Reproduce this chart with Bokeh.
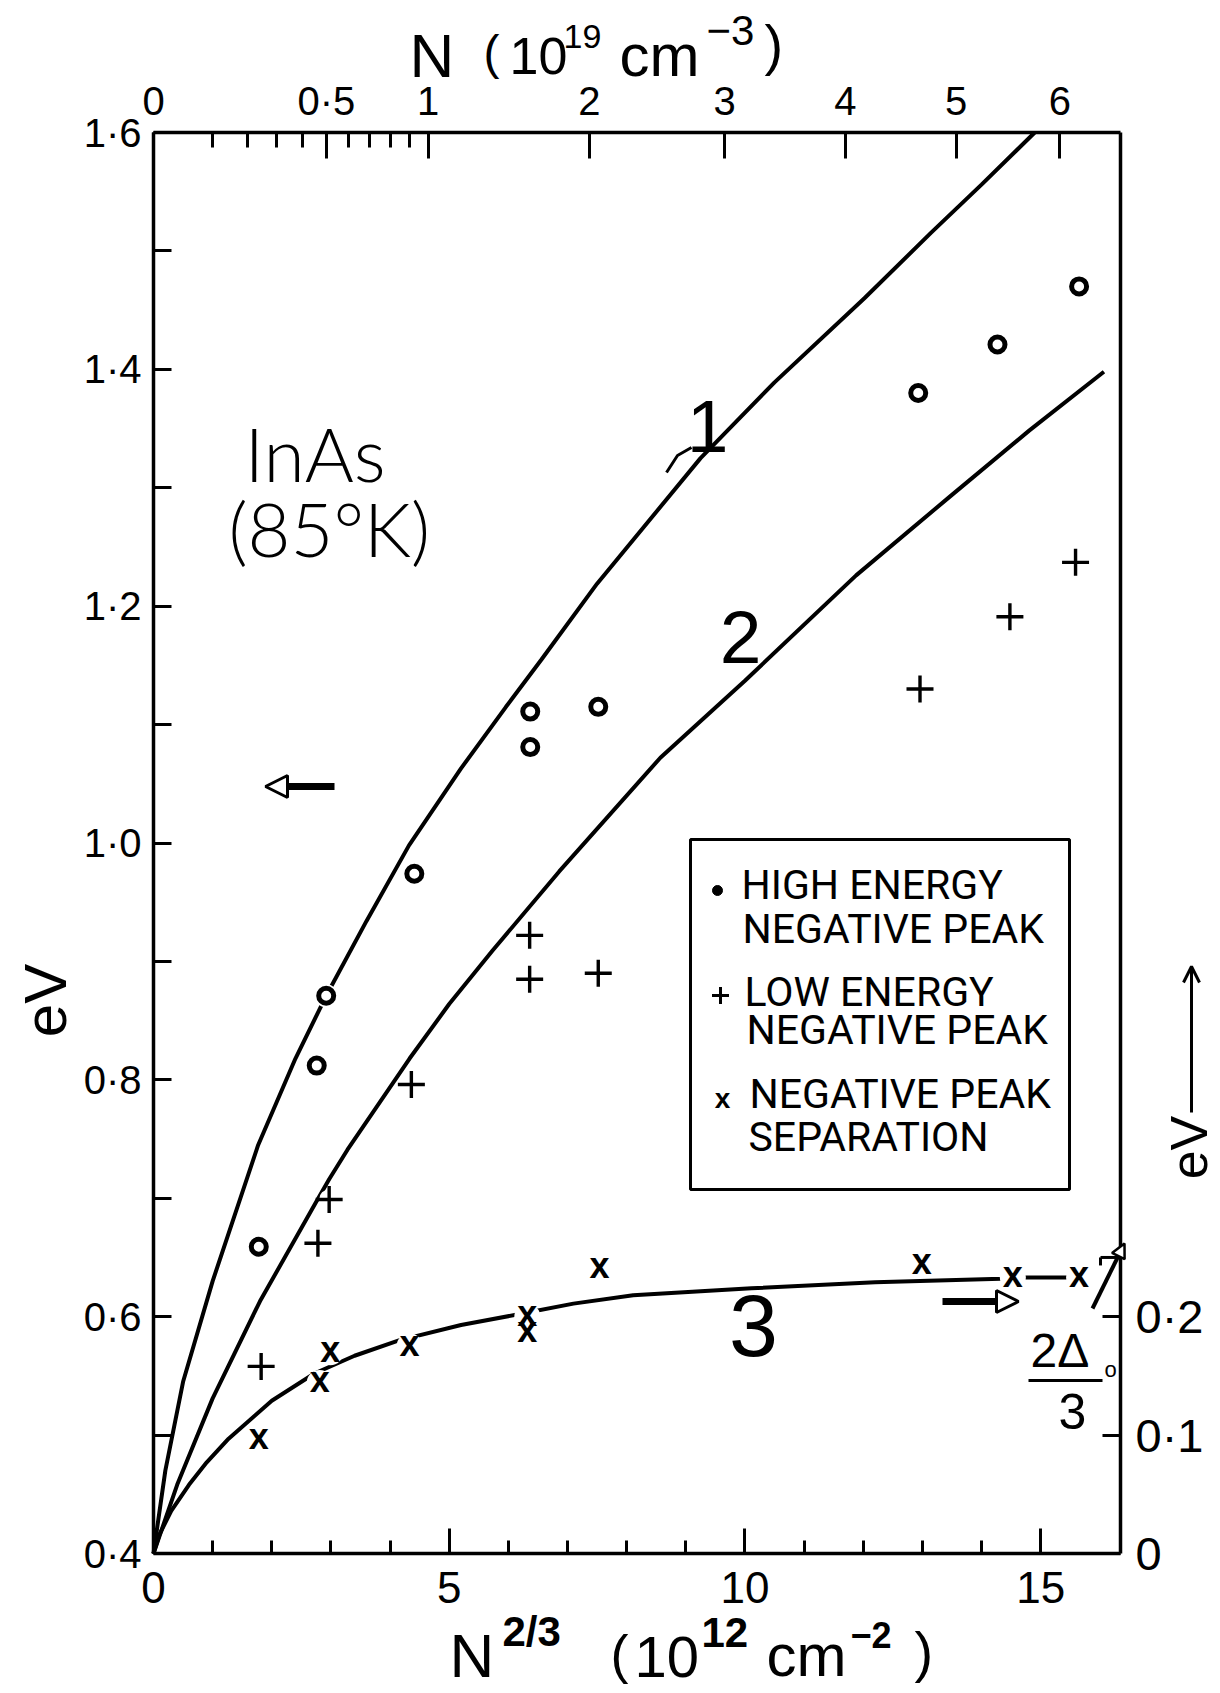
from bokeh.plotting import figure
from bokeh.models import (Range1d, LinearAxis, FixedTicker, Label, Arrow,
                          NormalHead, OpenHead)
from bokeh.core.properties import value
from bokeh.embed import file_html
from bokeh.resources import INLINE

# ---------------------------------------------------------------------------
# InAs (85 K): tunnelling negative-resistance peaks versus N^(2/3)
# x: N^(2/3) in units of 1e12 cm^-2 ; y: eV
# ---------------------------------------------------------------------------
high_x = [1.78, 2.76, 2.92, 4.41, 6.37, 6.37, 7.52, 12.93, 14.27, 15.65]
high_y = [0.659, 0.812, 0.871, 0.974, 1.111, 1.081, 1.115, 1.380, 1.421, 1.470]

low_x = [1.82, 2.78, 2.97, 4.36, 6.36, 6.36, 7.52, 12.96, 14.48, 15.59]
low_y = [0.558, 0.662, 0.699, 0.796, 0.922, 0.885, 0.890, 1.130, 1.191, 1.237]

# peak separation, read on the right-hand scale
sep_x = [1.78, 2.81, 2.99, 4.33, 6.32, 6.32, 7.54, 12.99, 14.53, 15.65]
sep_y = [0.096, 0.144, 0.170, 0.175, 0.200, 0.187, 0.241, 0.244, 0.233, 0.233]

curve1_x = [0.0, 0.2, 0.5, 1.0, 1.77, 2.4, 2.92, 3.6, 4.32, 5.2, 5.96, 6.56,
            7.5, 9.25, 10.5, 12.02, 13.14, 14.0, 14.9]
curve1_y = [0.400, 0.470, 0.545, 0.630, 0.745, 0.818, 0.871, 0.934, 0.998,
            1.063, 1.115, 1.155, 1.219, 1.325, 1.389, 1.460, 1.515, 1.556,
            1.600]

curve2_x = [0.0, 0.4, 1.0, 1.8, 2.74, 2.97, 3.28, 4.33, 5.0, 5.73, 6.86, 8.57,
            10.0, 11.88, 13.5, 14.8, 16.07]
curve2_y = [0.400, 0.458, 0.531, 0.613, 0.696, 0.716, 0.741, 0.818, 0.864,
            0.909, 0.976, 1.072, 1.137, 1.226, 1.294, 1.348, 1.398]

curve3_x = [0.0, 0.1, 0.3, 0.6, 0.9, 1.27, 2.0, 2.72, 3.4, 4.15, 5.2, 6.17,
            7.1, 8.11, 10.11, 12.2, 14.33, 14.53, 15.65]
curve3_y = [0.000, 0.016, 0.036, 0.058, 0.077, 0.097, 0.129, 0.152, 0.167,
            0.180, 0.193, 0.202, 0.211, 0.218, 0.224, 0.229, 0.232, 0.233,
            0.233]

two_delta0_over_3 = 0.25

left_ticks = [0.4, 0.6, 0.8, 1.0, 1.2, 1.4, 1.6]
left_labels = ["0·4", "0·6", "0·8", "1·0", "1·2", "1·4", "1·6"]
left_minor = [0.5, 0.7, 0.9, 1.1, 1.3, 1.5]

right_ticks = [0.0, 0.1, 0.2]
right_labels = ["0", "0·1", "0·2"]

bottom_ticks = [0, 5, 10, 15]
bottom_minor = [1, 2, 3, 4, 6, 7, 8, 9, 11, 12, 13, 14]

top_N = [0, 0.5, 1, 2, 3, 4, 5, 6]          # N in 1e19 cm^-3
top_labels = ["0", "0·5", "1", "2", "3", "4", "5", "6"]
top_N_minor = [0.1, 0.2, 0.3, 0.4, 0.6, 0.7, 0.8, 0.9]

# N (1e19 cm^-3) -> N^(2/3) (1e12 cm^-2)
N_TO_X = (1e19) ** (2.0 / 3.0) / 1e12
top_pos = [N_TO_X * n ** (2.0 / 3.0) for n in top_N]
top_minor_pos = [N_TO_X * n ** (2.0 / 3.0) for n in top_N_minor]

# ---------------------------------------------------------------------------
W, H = 1220, 1693
L, R, T, B = 153, 1120, 132, 1553          # axes box on the page
X0, X1 = 0.0, 16.35
Y0, Y1 = 0.4, 1.6
INK = "black"
FONT = "Liberation Sans"

# the drawing area covers the whole page; the axes box sits inside it
KX = (X1 - X0) / (R - L)
KY = (Y1 - Y0) / (B - T)
XR = Range1d(X0 - L * KX, X1 + (W - R) * KX)
YR = Range1d(Y0 - (H - B) * KY, Y1 + T * KY)


def px_x(X):
    return X0 + (X - L) * KX


def px_y(Y):
    return Y1 - (Y - T) * KY


p = figure(width=W, height=H, x_range=XR, y_range=YR,
           x_axis_location=None, y_axis_location=None,
           output_backend="svg", toolbar_location=None,
           min_border_left=0, min_border_right=0,
           min_border_top=0, min_border_bottom=0)
p.extra_y_ranges = {"sep": Range1d(YR.start - Y0, YR.end - Y0)}
p.grid.visible = False
p.outline_line_color = None
p.background_fill_color = "white"
p.border_fill_color = "white"


def ink_axis(ax, font_px, tick_in, minor_in, standoff):
    ax.axis_line_width = 3.5
    ax.axis_line_color = INK
    ax.major_tick_in = tick_in
    ax.major_tick_out = 0
    ax.minor_tick_in = minor_in
    ax.minor_tick_out = 0
    ax.major_tick_line_width = 3
    ax.minor_tick_line_width = 3
    ax.major_tick_line_color = INK
    ax.minor_tick_line_color = INK
    ax.major_label_text_font = FONT
    ax.major_label_text_font_size = f"{font_px}px"
    ax.major_label_text_color = INK
    ax.major_label_standoff = standoff


left_axis = LinearAxis(ticker=FixedTicker(ticks=left_ticks, minor_ticks=left_minor),
                       fixed_location=X0, bounds=(Y0, Y1))
left_axis.major_label_overrides = dict(zip(left_ticks, left_labels))
ink_axis(left_axis, 40, 18, 18, 12)
p.add_layout(left_axis, "left")

right_axis = LinearAxis(y_range_name="sep",
                        ticker=FixedTicker(ticks=right_ticks, minor_ticks=[]),
                        fixed_location=X1, bounds=(0.0, Y1 - Y0))
right_axis.major_label_overrides = dict(zip(right_ticks, right_labels))
ink_axis(right_axis, 47, 18, 0, 15)
p.add_layout(right_axis, "right")

bottom_axis = LinearAxis(ticker=FixedTicker(ticks=bottom_ticks, minor_ticks=bottom_minor),
                         fixed_location=Y0, bounds=(X0, X1))
ink_axis(bottom_axis, 44, 25, 13, 18)
p.add_layout(bottom_axis, "below")

top_axis = LinearAxis(ticker=FixedTicker(ticks=top_pos, minor_ticks=top_minor_pos),
                      fixed_location=Y1, bounds=(X0, X1))
top_axis.major_label_overrides = dict(zip(top_pos, top_labels))
ink_axis(top_axis, 40, 26, 15, 10)
p.add_layout(top_axis, "above")

# --- theoretical curves ----------------------------------------------------
p.line(curve1_x, curve1_y, line_width=4, line_color=INK)
p.line(curve2_x, curve2_y, line_width=4, line_color=INK)
p.line(curve3_x, curve3_y, line_width=4, line_color=INK, y_range_name="sep")

# white halos break the curves under each plotted point
p.scatter(high_x, high_y, marker="circle", size=23, fill_color="white", line_color=None)
p.scatter(low_x, low_y, marker="circle", size=20, fill_color="white", line_color=None)
p.scatter(sep_x, sep_y, marker="circle", size=26, fill_color="white", line_color=None,
          y_range_name="sep")

# --- measured points -------------------------------------------------------
p.scatter(high_x, high_y, marker="circle", size=15, fill_color="white",
          line_color=INK, line_width=5)
p.scatter(low_x, low_y, marker="cross", size=27, line_color=INK, line_width=3.4)
p.text(sep_x, sep_y, text=value("x"), y_range_name="sep",
       text_font=value(FONT), text_font_style="bold", text_font_size="36px",
       text_align="center", text_baseline="middle", y_offset=-3, text_color=INK)

# 2Δ0/3 mark on the right-hand scale
tick_left = px_x(R - 20)
p.segment(x0=[tick_left], y0=[two_delta0_over_3], x1=[X1], y1=[two_delta0_over_3],
          line_width=3, line_color=INK, y_range_name="sep")
p.segment(x0=[tick_left], y0=[two_delta0_over_3], x1=[tick_left],
          y1=[two_delta0_over_3 - 8 * KY],
          line_width=3, line_color=INK, y_range_name="sep")


def page_label(text, X, Y, size, align="left", angle=0.0, font=FONT, style="normal"):
    """Text placed by page pixels; Y is the vertical centre of the lettering."""
    p.add_layout(Label(x=px_x(X), y=px_y(Y), text=text, text_font=font,
                       text_font_size=f"{size}px", text_font_style=style,
                       text_align=align, text_baseline="middle", angle=angle,
                       text_color=INK))


# --- axis titles -----------------------------------------------------------
page_label("N", 409, 55, 62)
page_label("(", 483, 52, 48)
page_label("10", 509, 55, 52)
page_label("19", 563, 36, 34)
page_label("cm", 619, 55, 60)
page_label("−3", 706, 30, 42)
page_label(")", 764, 44, 56)

page_label("N", 449, 1655, 62)
page_label("2/3", 502, 1631, 42, style="bold")
page_label("(", 610, 1653, 54)
page_label("10", 634, 1656, 58)
page_label("12", 701, 1632, 42, style="bold")
page_label("cm", 766, 1655, 60)
page_label("−2", 850, 1634, 36, style="bold")
page_label(")", 914, 1651, 56)

page_label("eV", 45, 1000, 60, align="center", angle=1.5708)
page_label("eV", 1188, 1147, 52, align="center", angle=1.5708)
p.add_layout(Arrow(x_start=px_x(1191), y_start=px_y(1112),
                   x_end=px_x(1191), y_end=px_y(966),
                   end=OpenHead(size=16, line_width=3, line_color=INK),
                   line_width=3, line_color=INK))

# --- sample and curve labels -----------------------------------------------
page_label("InAs", 244, 452, 75, font="Lato Light")
page_label("(85°K)", 228, 528, 74, font="Lato Light")

page_label("1", 707, 426, 75, align="center")
p.line([px_x(666), px_x(677), px_x(691)], [px_y(472), px_y(455), px_y(447)],
       line_width=3, line_color=INK)
page_label("2", 740, 637, 75, align="center")
page_label("3", 753, 1325, 88, align="center")

# 2Δ0 / 3
page_label("2Δ", 1030, 1350, 48)
page_label("o", 1104, 1369, 22)
p.line([px_x(1028), px_x(1102)], [px_y(1380), px_y(1380)], line_width=3, line_color=INK)
page_label("3", 1072, 1411, 50, align="center")
p.add_layout(Arrow(x_start=px_x(1092), y_start=px_y(1308),
                   x_end=px_x(1124), y_end=px_y(1243),
                   end=NormalHead(size=14, fill_color="white", line_width=2.5,
                                  line_color=INK),
                   line_width=4, line_color=INK))

# scale arrows
p.add_layout(Arrow(x_start=px_x(334), y_start=px_y(786), x_end=px_x(265), y_end=px_y(786),
                   end=NormalHead(size=22, fill_color="white", line_width=3,
                                  line_color=INK),
                   line_width=7, line_color=INK))
p.add_layout(Arrow(x_start=px_x(942), y_start=px_y(1301), x_end=px_x(1018), y_end=px_y(1301),
                   end=NormalHead(size=22, fill_color="white", line_width=3,
                                  line_color=INK),
                   line_width=7, line_color=INK))

# --- key -------------------------------------------------------------------
p.quad(left=[px_x(690)], right=[px_x(1069)], top=[px_y(839)], bottom=[px_y(1189)],
       fill_color="white", line_color=INK, line_width=3)

key_lines = ["HIGH ENERGY", "NEGATIVE PEAK", "LOW ENERGY", "NEGATIVE PEAK",
             "NEGATIVE PEAK", "SEPARATION"]
key_left = [741, 742, 744, 746, 749, 748]
key_mid = [884, 928, 991, 1029, 1093, 1136]
p.text([px_x(v) for v in key_left], [px_y(v) for v in key_mid], text=key_lines,
       text_font=value("Roboto"), text_font_size="41px",
       text_align="left", text_baseline="middle", text_color=INK)
p.scatter([px_x(717)], [px_y(890)], marker="circle", size=10, fill_color=INK, line_color=INK)
p.scatter([px_x(720)], [px_y(995)], marker="cross", size=17, line_color=INK, line_width=3)
p.text([px_x(722)], [px_y(1100)], text=value("x"), text_font=value(FONT),
       text_font_style="bold", text_font_size="28px", text_align="center",
       text_baseline="middle", y_offset=-2, text_color=INK)

open("out.html", "w").write(file_html(p, INLINE))
